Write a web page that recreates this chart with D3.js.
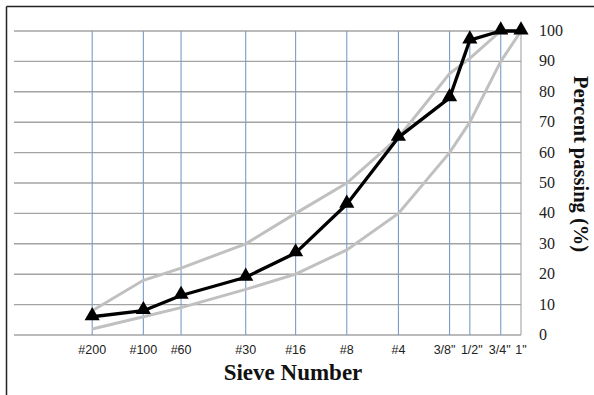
<!DOCTYPE html>
<html lang="en">
<head>
<meta charset="UTF-8">
<title>Sieve analysis</title>
<script src="https://d3js.org/d3.v7.min.js"></script>
<style>
  body { margin: 0; background: #fff; }
</style>
</head>
<body>
<div id="chart"></div>
<script>
// sieve labels and their opening sizes (mm)
var sieves = ["#200", "#100", "#60", "#30", "#16", "#8", "#4", "3/8\"", "1/2\"", "3/4\"", "1\""];
var sizes = [0.075, 0.15, 0.25, 0.6, 1.18, 2.36, 4.75, 9.5, 12.5, 19, 25];
// percent passing
var gradation = [6, 8, 13, 19, 27, 43, 65, 78, 97, 100, 100];
var upperLimit = [8, 18, 22, 30, 40, 50, 65, 86, 91, 100, 100];
var lowerLimit = [2, 6, 9, 15, 20, 28, 40, 60, 70, 90, 100];
var yTicks = [0, 10, 20, 30, 40, 50, 60, 70, 80, 90, 100];

var W = 594, H = 395;
var svg = d3.select("#chart").append("svg")
    .attr("width", W).attr("height", H);

// outer frame (top and left only visible)
svg.append("line").attr("x1", 6.5).attr("x2", W).attr("y1", 6.5).attr("y2", 6.5)
    .attr("stroke", "#222").attr("stroke-width", 1.5);
svg.append("line").attr("x1", 6.5).attr("x2", 6.5).attr("y1", 6.5).attr("y2", H)
    .attr("stroke", "#222").attr("stroke-width", 1.5);

var x = d3.scaleLog().domain([0.026, 25]).range([14, 521]);
var y = d3.scaleLinear().domain([0, 100]).range([335, 31]);

// horizontal grid
svg.append("g").selectAll("line").data(yTicks).enter().append("line")
    .attr("x1", x(0.026)).attr("x2", x(25))
    .attr("y1", function(d) { return y(d); }).attr("y2", function(d) { return y(d); })
    .attr("stroke", "#a3a3a3").attr("stroke-width", 1.4);

// vertical grid at sieves
svg.append("g").selectAll("line").data(sizes).enter().append("line")
    .attr("x1", function(d) { return x(d); }).attr("x2", function(d) { return x(d); })
    .attr("y1", y(100)).attr("y2", y(0))
    .attr("stroke", function(d, i) { return i == sizes.length - 1 ? "#a3a3a3" : "#7b9acb"; })
    .attr("stroke-width", 1.1);

var line = d3.line()
    .x(function(d, i) { return x(sizes[i]); })
    .y(function(d) { return y(d); });

svg.append("path").datum(upperLimit).attr("d", line)
    .attr("fill", "none").attr("stroke", "#c0c0c0").attr("stroke-width", 3);
svg.append("path").datum(lowerLimit).attr("d", line)
    .attr("fill", "none").attr("stroke", "#c0c0c0").attr("stroke-width", 3);
svg.append("path").datum(gradation).attr("d", line)
    .attr("fill", "none").attr("stroke", "#000").attr("stroke-width", 3.3)
    .attr("stroke-linejoin", "round");

// triangle markers
svg.append("g").selectAll("path").data(gradation).enter().append("path")
    .attr("d", d3.symbol().type(d3.symbolTriangle).size(100))
    .attr("transform", function(d, i) { return "translate(" + x(sizes[i]) + "," + (y(d) - 1) + ")"; })
    .attr("fill", "#000");

// x tick labels (the crowded inch sizes are nudged apart a little)
var nudge = {7: -5, 8: 2, 9: -1};
svg.append("g").selectAll("text").data(sieves).enter().append("text")
    .attr("x", function(d, i) { return x(sizes[i]) + (nudge[i] || 0); })
    .attr("y", 354)
    .attr("text-anchor", "middle")
    .style("font-family", "'Liberation Sans', Arial, sans-serif")
    .style("font-size", "12.5px")
    .attr("fill", "#222")
    .text(function(d) { return d; });

// y tick labels
svg.append("g").selectAll("text").data(yTicks).enter().append("text")
    .attr("x", 539)
    .attr("y", function(d) { return y(d) + 5; })
    .style("font-family", "'Liberation Serif', 'Times New Roman', serif")
    .style("font-size", "16px")
    .attr("fill", "#222")
    .text(function(d) { return d; });

// axis titles
svg.append("text")
    .attr("x", 293).attr("y", 380)
    .attr("text-anchor", "middle")
    .style("font-family", "'Liberation Serif', 'Times New Roman', serif")
    .style("font-size", "23px").style("font-weight", "bold")
    .attr("fill", "#111")
    .text("Sieve Number");

svg.append("text")
    .attr("transform", "translate(574,164) rotate(90)")
    .attr("text-anchor", "middle")
    .style("font-family", "'Liberation Serif', 'Times New Roman', serif")
    .style("font-size", "20.5px").style("font-weight", "bold")
    .attr("fill", "#111")
    .text("Percent passing (%)");
</script>
</body>
</html>
